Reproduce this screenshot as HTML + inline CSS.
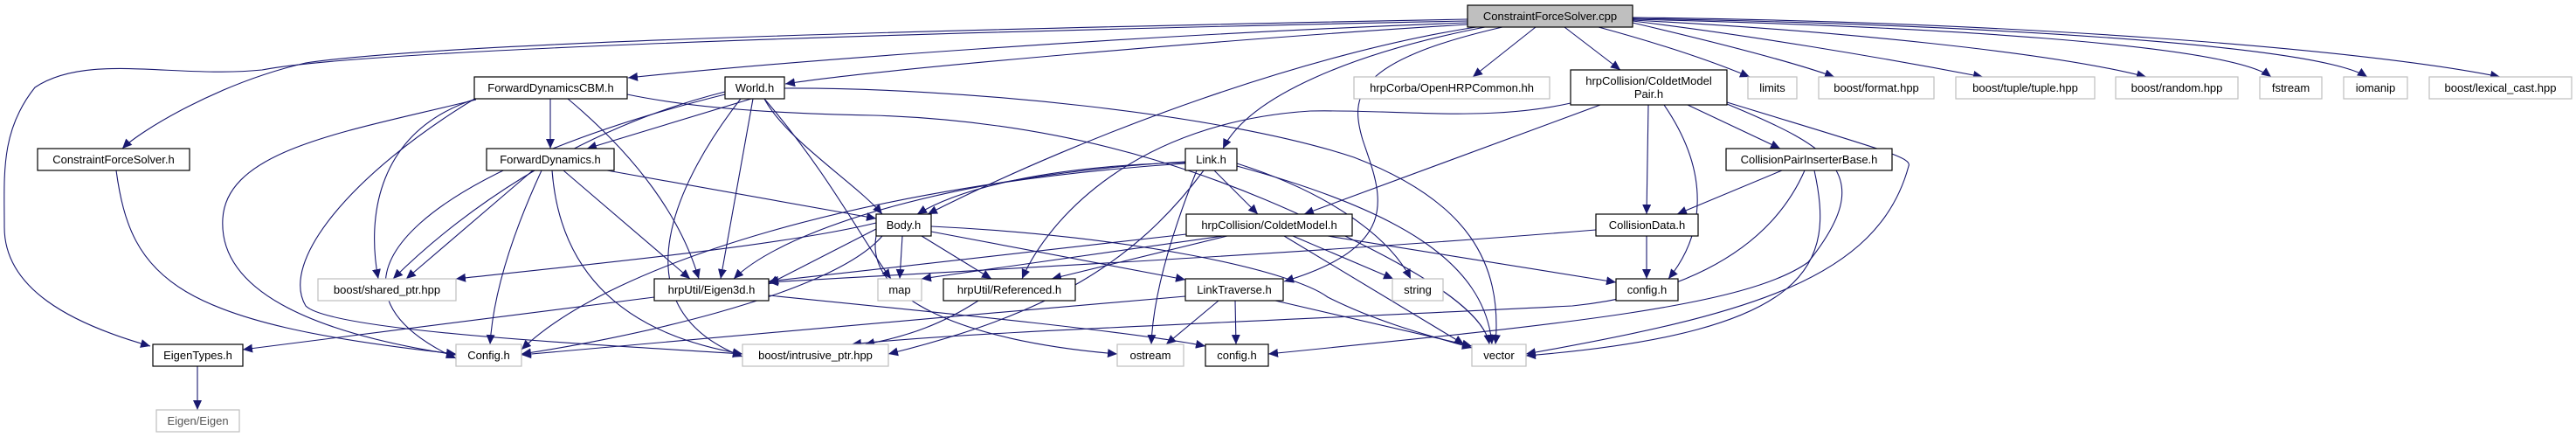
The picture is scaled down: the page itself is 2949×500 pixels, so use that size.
<!DOCTYPE html>
<html><head><meta charset="utf-8"><style>
html,body{margin:0;padding:0;background:#fff;}
svg{display:block;}
text{font-family:"Liberation Sans","DejaVu Sans",sans-serif;font-size:13px;fill:#000;text-anchor:middle;}
.e{fill:none;stroke:#191970;stroke-width:1.1;marker-end:url(#a);}
.b{fill:#fff;stroke:#000;stroke-width:1.2;}
.g{fill:#fff;stroke:#bfbfbf;stroke-width:1.2;}
</style></head><body>
<svg width="2949" height="500" viewBox="0 0 2949 500" xmlns="http://www.w3.org/2000/svg">
<defs><marker id="a" markerUnits="userSpaceOnUse" markerWidth="12" markerHeight="10" refX="11" refY="5" orient="auto"><path d="M0,0 L11,5 L0,10 z" fill="#191970"/></marker></defs>
<g>
<path class="e" d="M1680 22 C1000 35 500 50 350 72 C250 95 160 150 140 170"/>
<path class="e" d="M1680 24 C900 40 400 60 300 80 C200 90 100 60 40 100 C0 150 5 200 5 260 C5 330 80 370 172 396"/>
<path class="e" d="M1680 26 C1300 40 900 70 719 89"/>
<path class="e" d="M1680 28 C1400 45 1000 80 899 96"/>
<path class="e" d="M1690 31 C1500 60 1250 150 1062 245"/>
<path class="e" d="M1700 31 C1550 60 1430 110 1400 170"/>
<path class="e" d="M1720 31 C1550 70 1545 110 1560 160 C1580 220 1610 280 1470 322"/>
<path class="e" d="M1758 31 L1686 88"/>
<path class="e" d="M1791 31 L1855 80"/>
<path class="e" d="M1830 31 C1900 50 1960 70 2003 88"/>
<path class="e" d="M1869 26 C1950 45 2050 70 2100 88"/>
<path class="e" d="M1869 24 C2000 40 2150 65 2270 88"/>
<path class="e" d="M1869 23 C2100 35 2350 60 2457 88"/>
<path class="e" d="M1869 22 C2200 30 2550 50 2600 88"/>
<path class="e" d="M1869 21 C2250 28 2650 50 2710 88"/>
<path class="e" d="M1869 20 C2300 25 2700 55 2862 88"/>

<path class="e" d="M630 113 L630 170"/>
<path class="e" d="M545 113 C430 150 420 250 433 319"/>
<path class="e" d="M545 114 C400 150 260 170 255 250 C250 330 350 380 522 406"/>
<path class="e" d="M545 112 C400 200 320 300 350 350 C380 380 700 395 850 405"/>
<path class="e" d="M650 113 C730 180 780 250 800 319"/>
<path class="e" d="M718 108 C800 125 900 130 1000 132 C1250 140 1420 210 1560 280 C1640 320 1700 360 1705 394"/>

<path class="e" d="M860 113 L672 170"/>
<path class="e" d="M875 113 C900 160 980 210 1010 245"/>
<path class="e" d="M862 113 L825 319"/>
<path class="e" d="M830 105 C650 150 520 250 450 319"/>
<path class="e" d="M830 108 C500 190 330 320 522 410"/>
<path class="e" d="M848 113 C780 200 700 350 850 408"/>
<path class="e" d="M875 113 C950 200 990 280 1020 319"/>
<path class="e" d="M898 101 C1100 100 1400 130 1550 180 C1680 230 1720 300 1712 394"/>

<path class="e" d="M695 195 L1003 250"/>
<path class="e" d="M610 195 L465 319"/>
<path class="e" d="M620 195 C590 260 565 330 561 394"/>
<path class="e" d="M645 195 L790 319"/>
<path class="e" d="M632 195 C640 300 700 380 850 405"/>

<path class="e" d="M133 195 C150 320 200 370 522 405"/>
<path class="e" d="M226 419 L226 469"/>
<path class="e" d="M749 340 L278 400"/>
<path class="e" d="M880 338 C1100 360 1300 380 1380 396"/>

<path class="e" d="M1003 262 L880 325"/>
<path class="e" d="M1033 270 L1030 319"/>
<path class="e" d="M1055 270 L1135 319"/>
<path class="e" d="M1066 265 L1357 320"/>
<path class="e" d="M1010 270 C950 340 700 390 597 405"/>
<path class="e" d="M1003 255 C900 280 700 300 522 319"/>
<path class="e" d="M1003 270 C990 340 1100 390 1279 405"/>
<path class="e" d="M1066 259 C1300 270 1480 310 1520 340 C1580 370 1640 385 1685 398"/>

<path class="e" d="M1357 186 C1200 190 1100 215 1050 245"/>
<path class="e" d="M1357 185 C1100 200 900 260 840 319"/>
<path class="e" d="M1357 187 C1000 210 700 300 597 400"/>
<path class="e" d="M1390 195 L1440 245"/>
<path class="e" d="M1378 195 C1300 300 1200 360 1017 405"/>
<path class="e" d="M1370 195 C1340 270 1320 340 1318 394"/>
<path class="e" d="M1416 187 C1520 220 1590 270 1615 319"/>
<path class="e" d="M1416 190 C1600 240 1700 300 1708 394"/>

<path class="e" d="M1358 268 L880 322"/>
<path class="e" d="M1400 270 L1055 319"/>
<path class="e" d="M1405 270 L1204 319"/>
<path class="e" d="M1480 270 L1595 319"/>
<path class="e" d="M1470 270 L1676 394"/>
<path class="e" d="M1520 270 L1850 323"/>

<path class="e" d="M1832 120 L1493 245"/>
<path class="e" d="M1887 120 L1885 245"/>
<path class="e" d="M1905 120 C1960 200 1950 270 1910 319"/>
<path class="e" d="M1932 120 L2038 170"/>
<path class="e" d="M1798 118 C1700 140 1600 125 1500 127 C1300 140 1200 250 1170 319"/>
<path class="e" d="M1977 117 C2150 170 2190 180 2185 190 C2150 320 2000 360 1747 405"/>
<path class="e" d="M1977 119 C2100 170 2150 200 2070 300 C2000 350 1800 370 1452 405"/>

<path class="e" d="M2040 195 L1920 245"/>
<path class="e" d="M2077 195 C2100 300 2080 380 1747 407"/>
<path class="e" d="M2066 195 C2020 300 1900 340 1800 350 C1400 370 1100 380 975 394"/>

<path class="e" d="M1885 270 L1885 319"/>
<path class="e" d="M1827 263 C1500 290 1100 310 880 323"/>

<path class="e" d="M1357 339 C1100 360 800 390 597 406"/>
<path class="e" d="M1395 344 L1335 394"/>
<path class="e" d="M1414 344 L1415 394"/>
<path class="e" d="M1460 344 L1685 396"/>
<path class="e" d="M1120 344 C1080 370 1040 385 990 394"/>
</g>

<rect x="1680" y="6" width="189" height="25" fill="#bfbfbf" stroke="#000" stroke-width="1.2"/><text x="1774.5" y="23">ConstraintForceSolver.cpp</text>
<rect class="b" x="543" y="88" width="175" height="25"/><text x="630.5" y="105">ForwardDynamicsCBM.h</text>
<rect class="b" x="830" y="88" width="68" height="25"/><text x="864" y="105">World.h</text>
<rect class="g" x="1550" y="88" width="224" height="25"/><text x="1662" y="105">hrpCorba/OpenHRPCommon.hh</text>
<rect class="b" x="1798" y="80" width="179" height="40"/><text x="1887.5" y="97">hrpCollision/ColdetModel</text><text x="1887.5" y="112">Pair.h</text>
<rect class="g" x="2001" y="88" width="56" height="25"/><text x="2029" y="105">limits</text>
<rect class="g" x="2082" y="88" width="132" height="25"/><text x="2148" y="105">boost/format.hpp</text>
<rect class="g" x="2239" y="88" width="159" height="25"/><text x="2318.5" y="105">boost/tuple/tuple.hpp</text>
<rect class="g" x="2422" y="88" width="140" height="25"/><text x="2492" y="105">boost/random.hpp</text>
<rect class="g" x="2587" y="88" width="71" height="25"/><text x="2622.5" y="105">fstream</text>
<rect class="g" x="2683" y="88" width="73" height="25"/><text x="2719.5" y="105">iomanip</text>
<rect class="g" x="2781" y="88" width="163" height="25"/><text x="2862.5" y="105">boost/lexical_cast.hpp</text>

<rect class="b" x="43" y="170" width="174" height="25"/><text x="130" y="187">ConstraintForceSolver.h</text>
<rect class="b" x="557" y="170" width="146" height="25"/><text x="630" y="187">ForwardDynamics.h</text>
<rect class="b" x="1357" y="170" width="59" height="25"/><text x="1386.5" y="187">Link.h</text>
<rect class="b" x="1976" y="170" width="190" height="25"/><text x="2071" y="187">CollisionPairInserterBase.h</text>

<rect class="b" x="1003" y="245" width="63" height="25"/><text x="1034.5" y="262">Body.h</text>
<rect class="b" x="1358" y="245" width="190" height="25"/><text x="1453" y="262">hrpCollision/ColdetModel.h</text>
<rect class="b" x="1827" y="245" width="117" height="25"/><text x="1885.5" y="262">CollisionData.h</text>

<rect class="g" x="364" y="319" width="158" height="25"/><text x="443" y="336">boost/shared_ptr.hpp</text>
<rect class="b" x="749" y="319" width="131" height="25"/><text x="814.5" y="336">hrpUtil/Eigen3d.h</text>
<rect class="g" x="1005" y="319" width="50" height="25"/><text x="1030" y="336">map</text>
<rect class="b" x="1080" y="319" width="151" height="25"/><text x="1155.5" y="336">hrpUtil/Referenced.h</text>
<rect class="b" x="1357" y="319" width="112" height="25"/><text x="1413" y="336">LinkTraverse.h</text>
<rect class="g" x="1594" y="319" width="58" height="25"/><text x="1623" y="336">string</text>
<rect class="b" x="1850" y="319" width="71" height="25"/><text x="1885.5" y="336">config.h</text>

<rect class="b" x="175" y="394" width="103" height="25"/><text x="226.5" y="411">EigenTypes.h</text>
<rect class="g" x="522" y="394" width="75" height="25"/><text x="559.5" y="411">Config.h</text>
<rect class="g" x="850" y="394" width="167" height="25"/><text x="933.5" y="411">boost/intrusive_ptr.hpp</text>
<rect class="g" x="1279" y="394" width="76" height="25"/><text x="1317" y="411">ostream</text>
<rect class="b" x="1380" y="394" width="72" height="25"/><text x="1416" y="411">config.h</text>
<rect class="g" x="1685" y="394" width="62" height="25"/><text x="1716" y="411">vector</text>
<rect class="g" x="179" y="469" width="95" height="25"/><text x="226.5" y="486" style="fill:#555">Eigen/Eigen</text>
</svg>
</body></html>
